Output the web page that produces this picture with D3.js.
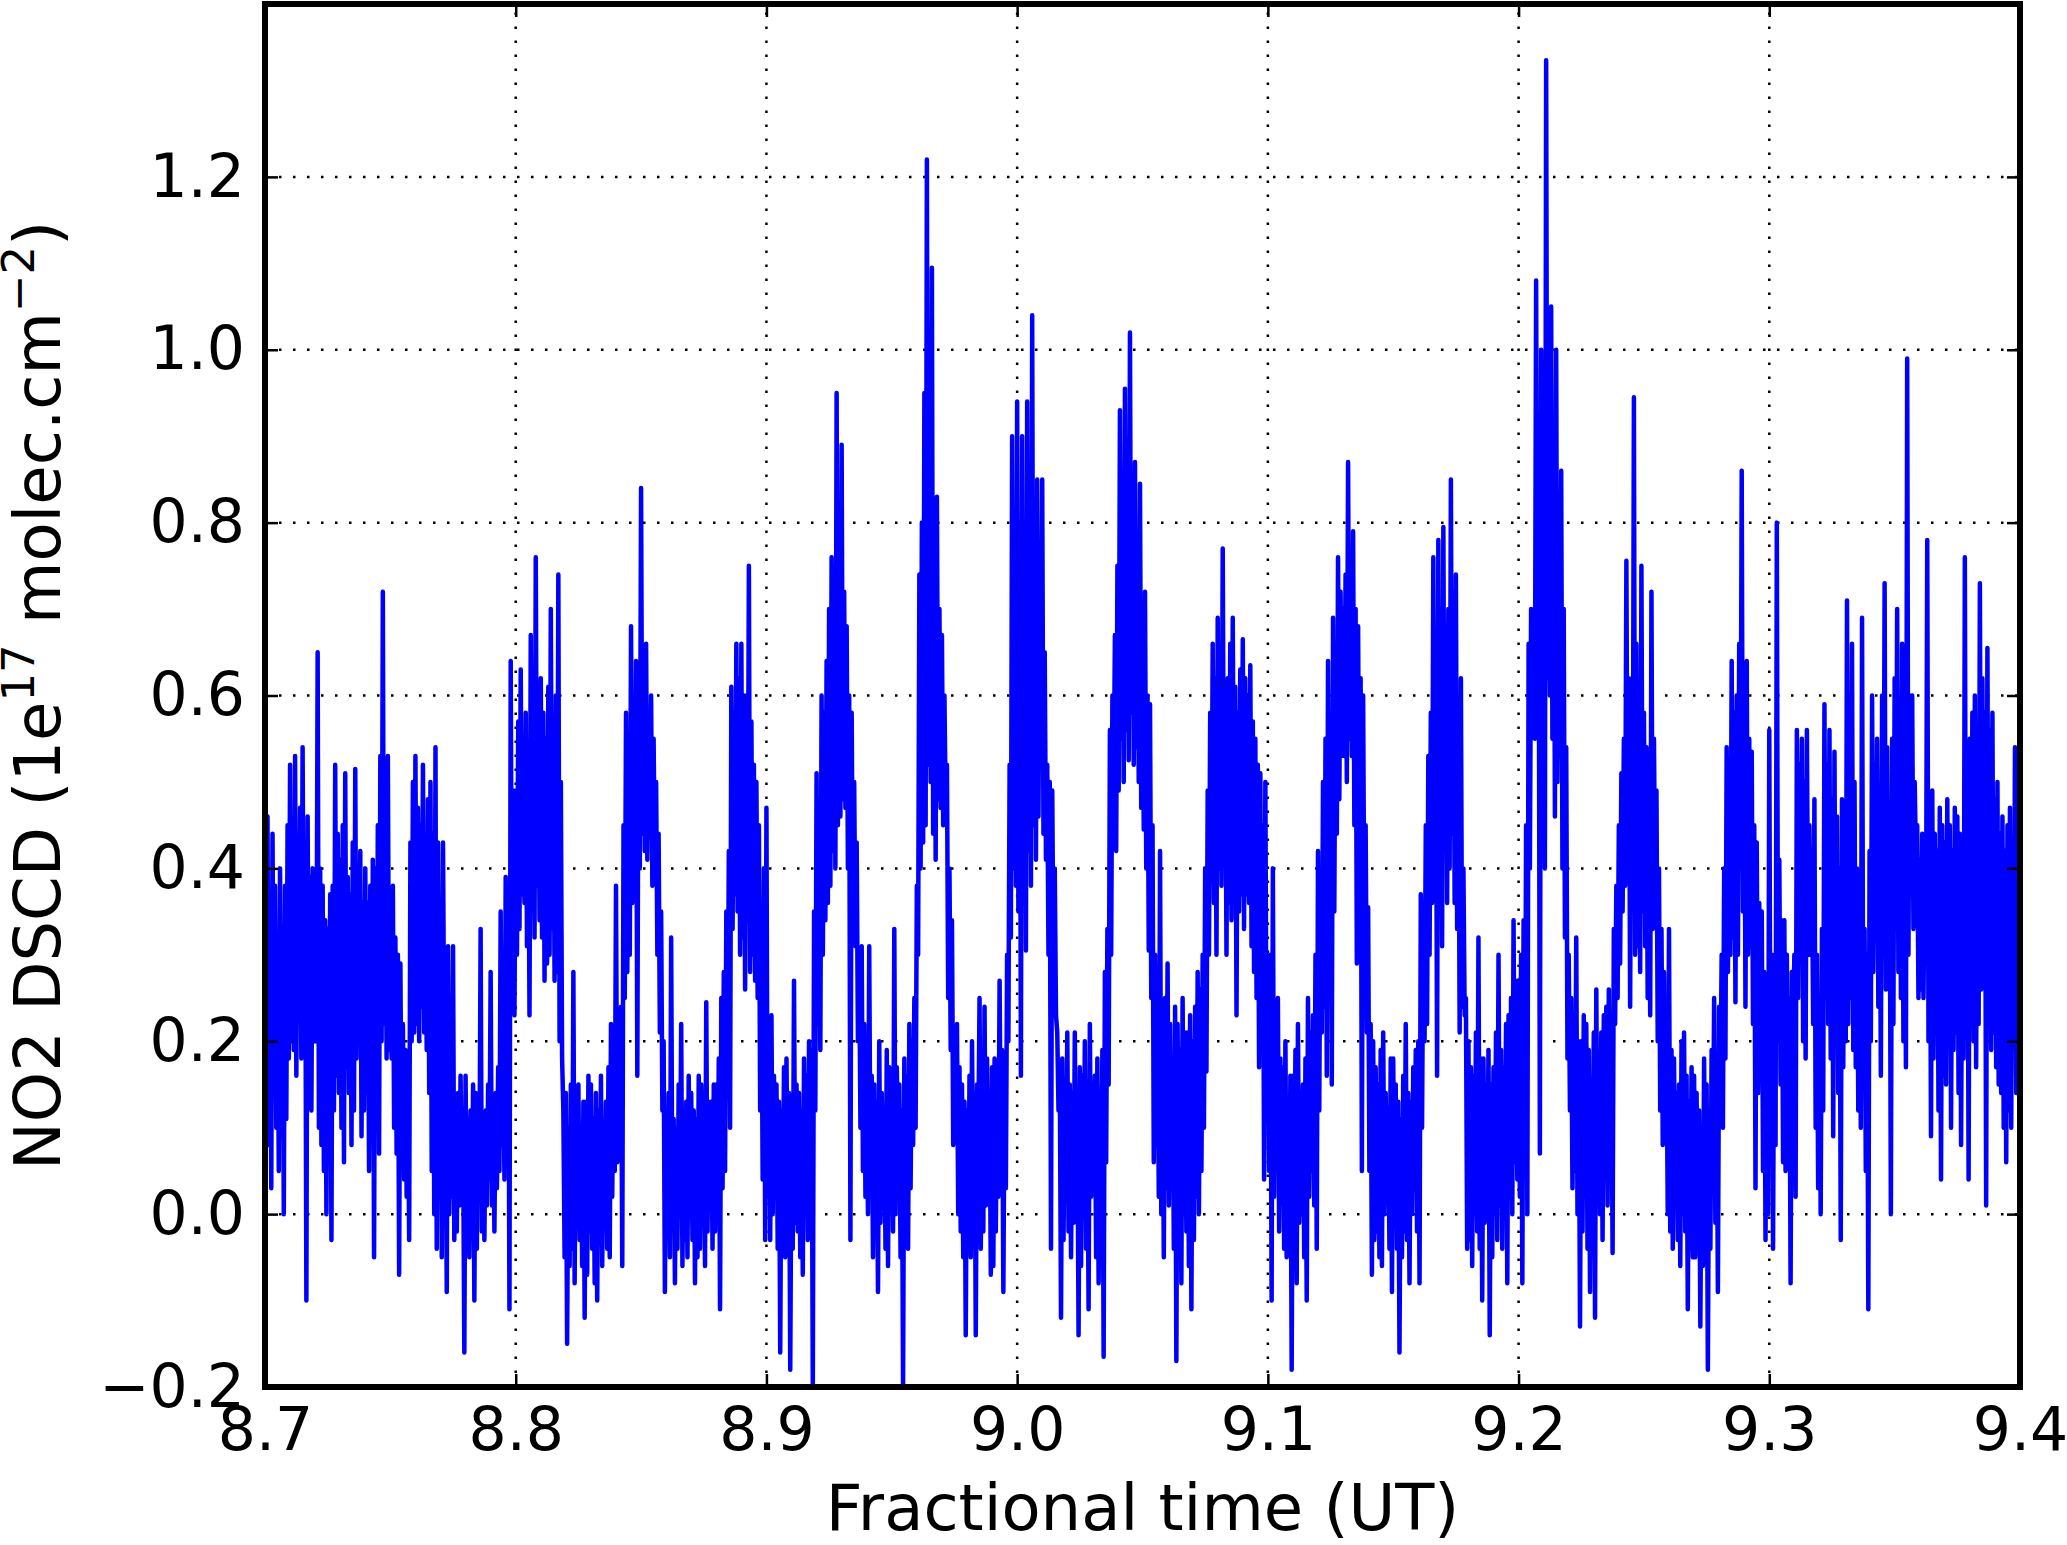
<!DOCTYPE html>
<html><head><meta charset="utf-8">
<script src="https://cdn.jsdelivr.net/npm/d3@7"></script>
<style>html,body{margin:0;padding:0;background:#fff;} svg{display:block;font-family:"DejaVu Sans",sans-serif;}</style>
</head><body><svg id="chart" width="2067" height="1545"></svg>
<script>
// sampling grid of the series (fractional hours UT)
const startTime = 8.7;
const sampleStep = 0.0005;
// NO2 DSCD values (1e17 molec/cm2), one row per 0.01 h
const no2Dscd = [
 0.30,0.12,0.46,0.08,0.36,0.03,0.44,0.15,0.38,0.10,0.30,0.05,0.40,0.16,0.33,0.00,0.38,0.11,0.45,0.18,
 0.52,0.20,0.44,0.19,0.53,0.16,0.41,0.25,0.47,0.18,0.54,0.22,0.43,-0.10,0.46,0.15,0.39,0.12,0.40,0.20,
 0.36,0.20,0.65,0.10,0.40,0.08,0.38,0.05,0.34,0.00,0.33,0.09,0.37,-0.03,0.38,0.12,0.52,0.16,0.44,0.14,
 0.41,0.10,0.45,0.06,0.51,0.17,0.39,0.14,0.37,0.08,0.43,0.12,0.515,0.18,0.40,0.20,0.42,0.09,0.36,0.12,
 0.40,0.14,0.36,0.05,0.38,0.10,0.41,-0.05,0.40,0.12,0.45,0.07,0.53,0.20,0.72,0.22,0.48,0.18,0.53,0.19,
 0.35,0.18,0.38,0.10,0.32,0.07,0.30,-0.07,0.29,0.06,0.22,0.04,0.19,0.02,0.17,-0.03,0.43,0.20,0.50,0.21,
 0.53,0.22,0.47,0.20,0.45,0.24,0.52,0.21,0.42,0.19,0.48,0.14,0.50,0.05,0.44,0.00,0.54,-0.04,0.43,0.18,
 0.20,-0.05,0.43,0.18,0.15,-0.09,0.31,0.00,0.14,0.02,0.31,-0.03,0.12,-0.02,0.14,0.01,0.16,0.03,0.10,-0.16,
 0.16,-0.01,0.11,-0.05,0.12,0.00,0.15,-0.10,0.14,-0.04,0.13,0.02,0.33,-0.02,0.10,-0.03,0.12,0.01,0.15,0.04,
 0.28,0.01,0.13,-0.02,0.14,0.03,0.17,0.05,0.35,0.08,0.22,0.04,0.39,0.12,0.35,-0.11,0.64,0.26,0.49,0.23,
 0.49,0.30,0.57,0.33,0.63,0.37,0.55,0.36,0.58,0.31,0.52,0.23,0.67,0.35,0.56,0.32,0.76,0.38,0.60,0.34,
 0.62,0.32,0.58,0.27,0.55,0.29,0.61,0.30,0.70,0.33,0.57,0.27,0.60,0.28,0.74,0.20,0.50,0.18,0.12,-0.05,
 0.14,-0.15,0.10,-0.06,0.15,-0.04,0.28,-0.08,0.12,0.02,0.15,-0.03,0.09,-0.06,0.13,-0.12,0.13,-0.07,0.16,-0.02,
 0.15,-0.04,0.11,-0.08,0.14,-0.10,0.12,-0.03,0.16,-0.06,0.10,0.00,0.13,-0.04,0.17,-0.05,0.22,0.02,0.19,0.05,
 0.38,0.06,0.20,0.08,0.24,-0.06,0.45,0.25,0.58,0.28,0.55,0.30,0.68,0.36,0.60,0.37,0.64,0.16,0.62,0.40,
 0.84,0.44,0.63,0.42,0.66,0.41,0.58,0.45,0.60,0.38,0.55,0.39,0.50,0.30,0.44,0.21,0.35,0.12,0.20,-0.09,
 0.12,-0.02,0.14,-0.05,0.32,-0.01,0.11,-0.08,0.10,-0.04,0.15,0.02,0.22,-0.06,0.12,-0.03,0.13,-0.05,0.16,0.00,
 0.14,-0.03,0.12,-0.08,0.11,-0.05,0.16,-0.04,0.15,0.01,0.10,-0.06,0.245,-0.02,0.13,0.02,0.13,-0.04,0.15,-0.02,
 0.15,-0.01,0.18,-0.11,0.25,0.03,0.28,0.05,0.35,0.14,0.42,0.10,0.61,0.33,0.58,0.37,0.66,0.35,0.62,0.30,
 0.66,0.32,0.60,0.26,0.60,0.34,0.75,0.28,0.57,0.30,0.52,0.27,0.50,0.25,0.45,0.12,0.30,0.04,0.40,-0.03,
 0.47,0.02,0.18,-0.03,0.23,0.00,0.16,0.02,0.15,-0.04,0.13,-0.16,0.12,-0.02,0.17,-0.05,0.18,0.01,0.14,-0.18,
 0.10,-0.04,0.27,-0.01,0.15,-0.02,0.14,-0.05,0.12,-0.07,0.18,0.00,0.16,-0.03,0.20,0.02,0.19,-0.20,0.35,0.12,
 0.51,0.22,0.48,0.19,0.60,0.30,0.58,0.34,0.64,0.36,0.70,0.38,0.76,0.42,0.68,0.40,0.95,0.45,0.78,0.46,
 0.89,0.48,0.72,0.47,0.68,0.40,0.60,-0.03,0.58,0.34,0.50,0.31,0.43,0.20,0.30,0.10,0.31,0.05,0.22,0.02,
 0.18,0.00,0.31,0.03,0.16,-0.05,0.15,-0.02,0.13,-0.09,0.20,-0.01,0.14,0.01,0.12,-0.04,0.19,-0.06,0.17,0.02,
 0.14,-0.02,0.33,0.00,0.17,0.05,0.15,-0.05,0.12,-0.20,0.18,-0.03,0.16,-0.04,0.22,0.03,0.20,0.08,0.25,0.10,
 0.38,0.30,0.74,0.40,0.80,0.43,0.95,0.45,1.22,0.52,0.88,0.50,1.095,0.44,0.82,0.41,0.83,0.48,0.70,0.47,
 0.67,0.45,0.60,0.47,0.52,0.25,0.40,0.19,0.34,0.08,0.20,0.10,0.22,0.00,0.17,-0.02,0.15,-0.05,0.13,-0.14,
 0.12,-0.03,0.16,-0.05,0.20,0.00,0.14,-0.14,0.15,0.08,0.25,-0.04,0.13,-0.02,0.24,0.01,0.18,0.05,0.14,-0.07,
 0.17,-0.06,0.18,-0.02,0.15,0.02,0.27,0.04,0.19,-0.09,0.16,0.03,0.30,0.20,0.52,0.32,0.90,0.40,0.75,0.38,
 0.94,0.35,0.80,0.16,0.90,0.36,0.78,0.305,0.94,0.42,0.85,0.38,1.04,0.45,0.82,0.41,0.85,0.46,0.72,0.52,
 0.85,0.44,0.65,0.41,0.52,0.30,0.50,-0.04,0.49,0.28,0.40,0.23,0.21,0.12,0.17,-0.12,0.18,-0.03,0.14,0.02,
 0.21,-0.02,0.15,-0.05,0.14,-0.01,0.21,0.01,0.13,-0.14,0.17,-0.06,0.16,0.00,0.20,-0.04,0.12,-0.11,0.22,0.02,
 0.15,0.03,0.16,-0.05,0.18,-0.08,0.14,0.00,0.19,-0.165,0.28,0.06,0.33,0.15,0.56,0.30,0.60,0.49,0.67,0.42,
 0.75,0.49,0.93,0.55,0.80,0.50,0.955,0.56,0.78,0.525,1.02,0.58,0.84,0.52,0.87,0.54,0.76,0.50,0.845,0.47,
 0.70,0.445,0.72,0.40,0.60,0.305,0.59,0.25,0.45,0.06,0.30,0.08,0.22,0.02,0.42,0.00,0.20,-0.05,0.25,0.03,
 0.29,0.01,0.22,0.03,0.18,-0.04,0.24,-0.17,0.22,-0.02,0.19,-0.08,0.25,0.00,0.21,-0.02,0.21,-0.06,0.23,-0.11,
 0.20,-0.03,0.24,0.02,0.28,0.00,0.26,0.05,0.30,0.10,0.40,0.165,0.49,0.30,0.58,0.385,0.66,0.36,0.62,0.30,
 0.69,0.40,0.64,0.38,0.77,0.42,0.60,0.30,0.62,0.36,0.66,0.34,0.69,0.39,0.61,0.23,0.58,0.35,0.63,0.37,
 0.665,0.33,0.62,0.37,0.60,0.36,0.635,0.31,0.57,0.28,0.55,0.25,0.52,0.17,0.51,0.20,0.45,0.04,0.50,0.15,
 0.27,0.05,0.30,-0.10,0.40,0.02,0.22,0.10,0.25,-0.02,0.18,0.03,0.17,-0.04,0.20,-0.05,0.12,-0.01,0.16,-0.18,
 0.16,-0.03,0.19,-0.08,0.22,-0.01,0.14,0.00,0.15,-0.05,0.18,-0.10,0.25,0.02,0.21,0.05,0.23,0.01,0.30,-0.04,
 0.42,0.12,0.40,0.21,0.50,0.24,0.55,0.16,0.64,0.30,0.58,0.15,0.69,0.35,0.66,0.44,0.76,0.48,0.72,0.53,
 0.70,0.53,0.74,0.50,0.87,0.55,0.75,0.53,0.79,0.45,0.70,0.29,0.68,0.38,0.62,0.05,0.60,0.30,0.45,0.21,
 0.355,0.05,0.22,-0.07,0.20,-0.03,0.17,-0.02,0.15,-0.05,0.19,-0.06,0.21,0.00,0.14,0.02,0.12,-0.04,0.18,-0.09,
 0.18,-0.01,0.15,-0.04,0.13,-0.16,0.11,-0.05,0.16,-0.02,0.22,-0.03,0.14,-0.08,0.13,0.00,0.17,0.03,0.19,-0.02,
 0.20,-0.08,0.37,0.10,0.36,0.20,0.45,0.22,0.53,0.30,0.58,0.36,0.76,0.40,0.65,0.16,0.78,0.35,0.70,0.31,
 0.795,0.42,0.68,0.36,0.70,0.40,0.85,0.44,0.72,0.36,0.74,0.33,0.58,0.21,0.62,0.24,0.40,0.23,0.25,-0.04,
 0.20,-0.03,0.17,-0.06,0.16,0.00,0.21,-0.02,0.32,-0.04,0.18,-0.10,0.18,-0.01,0.15,0.02,0.19,-0.14,0.15,-0.05,
 0.17,0.00,0.21,-0.03,0.30,0.01,0.19,-0.04,0.17,0.03,0.22,-0.08,0.23,0.02,0.25,0.00,0.34,0.06,0.27,0.04,
 0.27,0.02,0.30,-0.08,0.34,0.05,0.45,0.00,0.66,0.40,0.70,0.575,0.69,0.55,1.08,0.60,0.80,0.07,1.00,0.48,
 0.85,0.40,1.335,0.62,0.95,0.60,1.05,0.55,0.90,0.46,1.00,0.50,0.80,0.53,0.86,0.40,0.70,0.32,0.54,0.18,
 0.30,0.12,0.25,0.03,0.22,0.05,0.32,0.00,0.20,-0.13,0.20,-0.02,0.23,0.02,0.22,-0.04,0.19,-0.09,0.15,0.01,
 0.21,-0.12,0.26,0.02,0.18,0.00,0.21,-0.03,0.23,0.05,0.24,0.01,0.26,0.08,0.22,-0.045,0.33,0.22,0.38,0.25,
 0.45,0.29,0.51,0.35,0.55,0.38,0.756,0.40,0.62,0.24,0.60,0.36,0.945,0.30,0.66,0.31,0.60,0.28,0.75,0.35,
 0.58,0.31,0.54,0.25,0.50,0.23,0.72,0.33,0.55,0.36,0.49,0.20,0.40,0.12,0.33,0.08,0.28,0.10,0.21,0.00,
 0.33,-0.02,0.19,-0.04,0.18,0.01,0.14,-0.03,0.15,-0.06,0.20,0.00,0.21,-0.02,0.16,-0.11,0.13,-0.04,0.17,-0.05,
 0.16,-0.05,0.14,-0.02,0.12,-0.13,0.10,-0.06,0.18,-0.03,0.15,-0.18,0.12,-0.04,0.19,0.03,0.25,-0.01,0.17,-0.09,
 0.24,0.14,0.30,0.10,0.40,0.18,0.54,0.28,0.50,0.30,0.64,0.32,0.58,0.245,0.60,0.30,0.66,0.40,0.86,0.35,
 0.60,0.24,0.64,0.30,0.55,0.31,0.535,0.22,0.45,0.03,0.43,0.14,0.36,0.16,0.35,0.05,0.28,-0.03,0.22,0.00,
 0.56,0.10,0.30,-0.04,0.30,0.08,0.80,0.20,0.41,0.15,0.34,0.06,0.34,0.05,0.30,0.10,0.25,-0.08,0.28,0.21,
 0.30,0.02,0.56,0.25,0.52,0.32,0.55,0.20,0.50,0.18,0.56,0.30,0.45,0.30,0.40,0.22,0.48,0.10,0.30,0.03,
 0.25,0.00,0.33,0.12,0.59,0.25,0.52,0.22,0.56,0.18,0.48,0.09,0.535,0.20,0.46,0.14,0.40,-0.03,0.48,0.17,
 0.45,0.20,0.71,0.22,0.60,0.25,0.66,0.19,0.50,0.17,0.40,0.12,0.38,0.10,0.69,0.15,0.33,0.05,0.30,-0.11,
 0.42,0.20,0.60,0.28,0.52,0.33,0.55,0.24,0.48,0.16,0.60,0.30,0.73,0.26,0.54,0.30,0.45,0.00,0.55,0.22,
 0.62,0.37,0.70,0.28,0.58,0.25,0.66,0.20,0.55,0.17,0.99,0.30,0.60,0.37,0.60,0.33,0.50,0.41,0.45,0.25,
 0.41,0.26,0.44,0.25,0.40,0.30,0.78,0.20,0.46,0.09,0.49,0.18,0.44,0.21,0.42,0.12,0.47,0.04,0.45,0.16,
 0.43,0.15,0.48,0.20,0.45,0.10,0.42,0.19,0.47,0.21,0.46,0.14,0.44,0.08,0.40,0.18,0.76,0.22,0.50,0.04,
 0.55,0.25,0.58,0.20,0.60,0.17,0.50,0.22,0.73,0.26,0.62,0.30,0.58,0.01,0.655,0.24,0.56,0.19,0.58,0.21,
 0.48,0.17,0.50,0.15,0.44,0.14,0.46,0.10,0.42,0.06,0.45,0.12,0.47,0.10,0.43,0.20,0.54,0.14,0.50,0.30,
 -0.09
];
const xTicks = [8.7, 8.8, 8.9, 9.0, 9.1, 9.2, 9.3, 9.4];
const yTicks = [-0.2, 0.0, 0.2, 0.4, 0.6, 0.8, 1.0, 1.2];
const xDomain = [8.7, 9.4];
const yDomain = [-0.2, 1.4];
const xLabel = "Fractional time (UT)";

const svg = d3.select("#chart");
const L = 265, R = 2020, T = 4, B = 1387;
const x = d3.scaleLinear().domain(xDomain).range([L, R]);
const y = d3.scaleLinear().domain(yDomain).range([B, T]);

svg.append("rect").attr("width", 2067).attr("height", 1545).attr("fill", "#fff");

// grid
const grid = svg.append("g").attr("stroke", "#000").attr("stroke-width", 2.5).attr("stroke-dasharray", "2.5,11.5");
grid.selectAll("line.v").data(xTicks).join("line").attr("class", "v")
  .attr("x1", d => x(d)).attr("x2", d => x(d)).attr("y1", B).attr("y2", T);
grid.selectAll("line.h").data(yTicks).join("line").attr("class", "h")
  .attr("y1", d => y(d)).attr("y2", d => y(d)).attr("x1", L).attr("x2", R);

// series
svg.append("clipPath").attr("id", "clip").append("rect")
  .attr("x", L).attr("y", T).attr("width", R - L).attr("height", B - T);
const pts = no2Dscd.map((v, i) => [startTime + i * sampleStep, v]);
svg.append("path").datum(pts)
  .attr("clip-path", "url(#clip)")
  .attr("fill", "none").attr("stroke", "#0000ff").attr("stroke-width", 4.5)
  .attr("stroke-linejoin", "round").attr("stroke-linecap", "butt")
  .attr("d", d3.line().x(d => x(d[0])).y(d => y(d[1])));

// axes (inward ticks on all sides)
const fmt = d3.format(".1f");
const ax = (g) => { g.select(".domain").remove(); g.selectAll(".tick line").attr("stroke", "#000").attr("stroke-width", 2.5); g.selectAll("text").attr("font-family", "DejaVu Sans").attr("font-size", 60).attr("fill", "#000"); };
svg.append("g").attr("transform", `translate(0,${B})`)
  .call(d3.axisBottom(x).tickValues(xTicks).tickFormat(fmt).tickSize(-13).tickPadding(20)).call(ax);
svg.append("g").attr("transform", `translate(0,${T})`)
  .call(d3.axisTop(x).tickValues(xTicks).tickFormat("").tickSize(-13)).call(ax);
svg.append("g").attr("transform", `translate(${L},0)`)
  .call(d3.axisLeft(y).tickValues(yTicks).tickFormat(fmt).tickSize(-13).tickPadding(20)).call(ax);
svg.append("g").attr("transform", `translate(${R},0)`)
  .call(d3.axisRight(y).tickValues(yTicks).tickFormat("").tickSize(-13)).call(ax);

// frame
svg.append("rect").attr("x", L).attr("y", T).attr("width", R - L).attr("height", B - T)
  .attr("fill", "none").attr("stroke", "#000").attr("stroke-width", 6);

// labels
svg.append("text").attr("x", (L + R) / 2).attr("y", 1530).attr("text-anchor", "middle")
  .attr("font-size", 64).attr("fill", "#000").text(xLabel);

const yl = svg.append("text").attr("transform", `translate(60,${(T + B) / 2}) rotate(-90)`)
  .attr("text-anchor", "middle").attr("font-size", 64).attr("fill", "#000");
yl.append("tspan").text("NO2 DSCD (1e");
yl.append("tspan").attr("dy", -26).attr("font-size", 45).text("17");
yl.append("tspan").attr("dy", 26).text(" molec.cm");
yl.append("tspan").attr("dy", -26).attr("font-size", 45).text("\u22122");
yl.append("tspan").attr("dy", 26).text(")");
</script></body></html>
